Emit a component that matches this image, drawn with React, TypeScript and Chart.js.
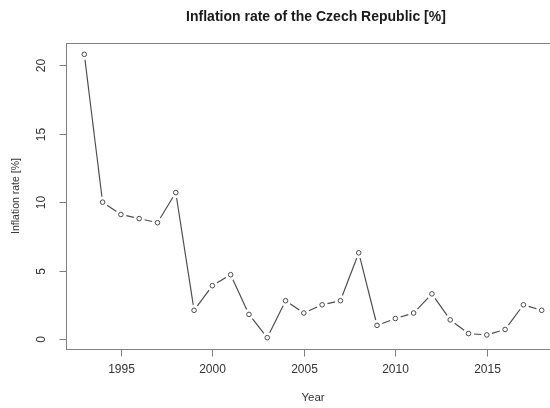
import { useEffect, useRef } from "react";
import { Chart, registerables } from "chart.js";

Chart.register(...registerables);

// Annual inflation, Czech Republic
const years = [
  1993, 1994, 1995, 1996, 1997, 1998, 1999, 2000, 2001, 2002, 2003, 2004, 2005,
  2006, 2007, 2008, 2009, 2010, 2011, 2012, 2013, 2014, 2015, 2016, 2017, 2018,
];
const inflation = [
  20.8, 10.0, 9.1, 8.8, 8.5, 10.7, 2.1, 3.9, 4.7, 1.8, 0.1, 2.8, 1.9, 2.5, 2.8,
  6.3, 1.0, 1.5, 1.9, 3.3, 1.4, 0.4, 0.3, 0.7, 2.5, 2.1,
];
const xTicks = [1995, 2000, 2005, 2010, 2015];
const yTicks = [0, 5, 10, 15, 20];

const mainTitle = "Inflation rate of the Czech Republic [%]";
const xTitle = "Year";
const yTitle = "Inflation rate [%]";

const FONT = '"Liberation Sans", Arial, Helvetica, sans-serif';
const INK = "#4a4a4a";
const TEXT = "#333";
const AXIS = "#808080";

// base-graphics style range: data extent widened by 4% on each side
function widen(values: number[]): [number, number] {
  const lo = Math.min(...values);
  const hi = Math.max(...values);
  const d = (hi - lo) * 0.04;
  return [lo - d, hi + d];
}

const [xMin, xMax] = widen(years);
const [yMin, yMax] = widen(inflation);

// "type b" lines: segments between points, stopped short of each marker
const gappedLines = {
  id: "gappedLines",
  beforeDatasetsDraw(chart: any) {
    const meta = chart.getDatasetMeta(0);
    const pts = meta.data;
    const ctx = chart.ctx;
    const gap = 5.5;
    ctx.save();
    ctx.strokeStyle = INK;
    ctx.lineWidth = 1.15;
    for (let i = 0; i < pts.length - 1; i++) {
      const a = pts[i];
      const b = pts[i + 1];
      const dx = b.x - a.x;
      const dy = b.y - a.y;
      const len = Math.hypot(dx, dy);
      if (len <= 2 * gap) continue;
      const ux = dx / len;
      const uy = dy / len;
      ctx.beginPath();
      ctx.moveTo(a.x + ux * gap, a.y + uy * gap);
      ctx.lineTo(b.x - ux * gap, b.y - uy * gap);
      ctx.stroke();
    }
    ctx.restore();
  },
};

// box, axes, tick labels and titles
const frame = {
  id: "frame",
  afterDraw(chart: any) {
    const ctx = chart.ctx;
    const { left, right, top, bottom } = chart.chartArea;
    const xs = chart.scales.x;
    const ys = chart.scales.y;
    const tick = 7;
    ctx.save();
    ctx.strokeStyle = AXIS;
    ctx.lineWidth = 1;
    ctx.strokeRect(
      Math.round(left) + 0.5,
      Math.round(top) + 0.5,
      Math.round(right - left),
      Math.round(bottom - top)
    );

    ctx.fillStyle = TEXT;
    ctx.font = `12px ${FONT}`;
    ctx.textAlign = "center";
    ctx.textBaseline = "middle";
    const by = Math.round(bottom) + 0.5;
    for (const t of xTicks) {
      const px = Math.round(xs.getPixelForValue(t)) + 0.5;
      ctx.beginPath();
      ctx.moveTo(px, by);
      ctx.lineTo(px, by + tick);
      ctx.stroke();
      ctx.fillText(String(t), px, bottom + 21);
    }
    const lx = Math.round(left) + 0.5;
    for (const t of yTicks) {
      const py = Math.round(ys.getPixelForValue(t)) + 0.5;
      ctx.beginPath();
      ctx.moveTo(lx, py);
      ctx.lineTo(lx - tick, py);
      ctx.stroke();
      ctx.save();
      ctx.translate(left - 24, py);
      ctx.rotate(-Math.PI / 2);
      ctx.fillText(String(t), 0, 0);
      ctx.restore();
    }

    const cx = (left + right) / 2;
    const cy = (top + bottom) / 2;
    ctx.font = `11.5px ${FONT}`;
    ctx.fillText(xTitle, cx, bottom + 49);
    ctx.save();
    ctx.translate(left - 50, cy);
    ctx.rotate(-Math.PI / 2);
    ctx.font = `10.5px ${FONT}`;
    ctx.fillText(yTitle, 0, 0);
    ctx.restore();

    ctx.fillStyle = "#1a1a1a";
    ctx.font = `bold 14px ${FONT}`;
    ctx.fillText(mainTitle, cx + 3, 17);
    ctx.restore();
  },
};

export default function App() {
  const ref = useRef<HTMLCanvasElement>(null);

  useEffect(() => {
    const canvas = ref.current;
    if (!canvas) return;
    const chart = new Chart(canvas, {
      type: "line",
      data: {
        datasets: [
          {
            data: years.map((y, i) => ({ x: y, y: inflation[i] })),
            showLine: false,
            pointStyle: "circle",
            pointRadius: 2.3,
            pointBorderWidth: 1,
            pointBorderColor: INK,
            pointBackgroundColor: "rgba(0,0,0,0)",
          },
        ],
      },
      options: {
        responsive: false,
        animation: false,
        devicePixelRatio: 1,
        layout: { padding: { left: 66, right: 20, top: 43, bottom: 59 } },
        plugins: {
          legend: { display: false },
          title: { display: false },
          tooltip: { enabled: false },
        },
        scales: {
          x: { type: "linear", min: xMin, max: xMax, display: false },
          y: { type: "linear", min: yMin, max: yMax, display: false },
        },
      },
      plugins: [gappedLines, frame],
    });
    return () => chart.destroy();
  }, []);

  return (
    <div
      style={{
        position: "fixed",
        left: 0,
        top: 0,
        width: 550,
        height: 408,
        overflow: "hidden",
        background: "#fff",
      }}
    >
      <canvas
        ref={ref}
        width={580}
        height={408}
        style={{ display: "block", width: 580, height: 408 }}
      />
    </div>
  );
}
